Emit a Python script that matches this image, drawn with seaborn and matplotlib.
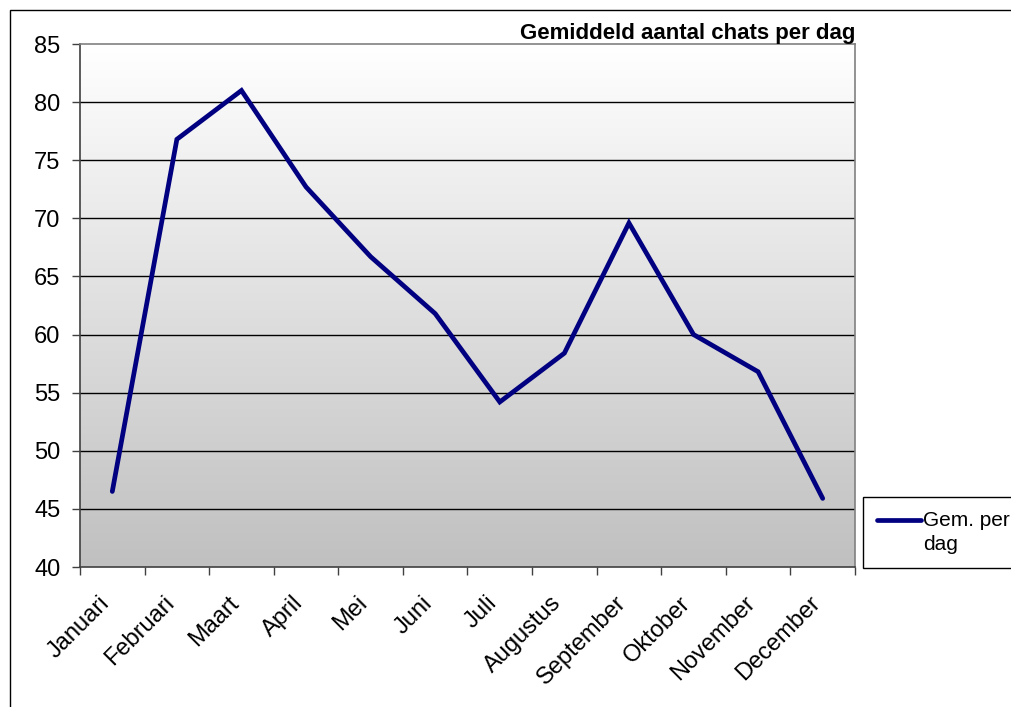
import numpy as np
import pandas as pd
import matplotlib
matplotlib.use("Agg")
import matplotlib.pyplot as plt
import matplotlib.transforms as mtransforms
from matplotlib.patches import Rectangle
from matplotlib.legend_handler import HandlerLine2D
import seaborn as sns

# Average number of chats per day, per month
maanden = ["Januari", "Februari", "Maart", "April", "Mei", "Juni", "Juli",
           "Augustus", "September", "Oktober", "November", "December"]
chats_per_dag = [46.5, 76.8, 81.0, 72.7, 66.7, 61.8, 54.2, 58.4, 69.6, 60.0, 56.8, 45.9]
y_ticks = [40, 45, 50, 55, 60, 65, 70, 75, 80, 85]

titel = "Gemiddeld aantal chats per dag"
legenda_label = "Gem. per\ndag"

sns.set_style("white")
plt.rcParams["font.family"] = ["Liberation Sans", "DejaVu Sans"]
plt.rcParams["text.color"] = "black"
plt.rcParams["xtick.color"] = "black"
plt.rcParams["ytick.color"] = "black"


class HandlerFirstLine(HandlerLine2D):
    """Legend line aligned with the first line of a two-line label."""

    def create_artists(self, legend, orig_handle, xdescent, ydescent, width,
                       height, fontsize, trans):
        artists = super().create_artists(legend, orig_handle, xdescent, ydescent,
                                         width, height, fontsize, trans)
        for a in artists:
            a.set_ydata(np.asarray(a.get_ydata()) + 0.62 * fontsize)
        return artists


W, H = 1012, 707
fig = plt.figure(figsize=(W / 100, H / 100), dpi=100)

# Outer chart frame
fig.patches.append(Rectangle((10 / W, -0.1), 1.2, 1 - 10 / H + 0.1,
                             transform=fig.transFigure, fill=False,
                             edgecolor="black", linewidth=1.0))

left, right, top, bottom = 80, 855, 44, 567
ax = fig.add_axes([left / W, 1 - bottom / H, (right - left) / W, (bottom - top) / H])

df = pd.DataFrame({"maand_idx": np.arange(len(maanden)), "chats": chats_per_dag})
x0, x1 = -0.5, len(maanden) - 0.5

# Vertical gradient fill of the plot area: white at top, grey at bottom
grad = np.linspace(0, 1, 256).reshape(-1, 1)
cmap = matplotlib.colors.LinearSegmentedColormap.from_list("bg", ["#ffffff", "#c0c0c0"])
ax.imshow(grad, aspect="auto", cmap=cmap, extent=[x0, x1, y_ticks[0], y_ticks[-1]],
          origin="upper", zorder=0)
ax.set_xlim(x0, x1)
ax.set_ylim(y_ticks[0], y_ticks[-1])

# Horizontal gridlines
for yv in y_ticks[1:-1]:
    ax.axhline(yv, color="#000000", linewidth=1.0, zorder=1)

sns.lineplot(data=df, x="maand_idx", y="chats", ax=ax, color="#000080",
             linewidth=3.4, legend=False, zorder=3, solid_joinstyle="miter")

# Axes styling
for side in ["top", "right"]:
    ax.spines[side].set_color("#808080")
    ax.spines[side].set_linewidth(1.2)
for side in ["left", "bottom"]:
    ax.spines[side].set_color("#404040")
    ax.spines[side].set_linewidth(1.2)

ax.set_yticks(y_ticks)
ax.set_yticklabels([str(v) for v in y_ticks], fontsize=17)
ax.tick_params(axis="y", direction="out", length=6, width=1, color="#404040", pad=8, left=True)

# Tick marks at category boundaries, labels at category centres
ax.set_xticks(np.arange(x0, len(maanden), 1.0))
ax.set_xticklabels([])
ax.tick_params(axis="x", which="major", direction="out", length=6, width=1, color="#404040", bottom=True)
ax.set_xticks(np.arange(len(maanden)), minor=True)
ax.set_xticklabels(maanden, minor=True, fontsize=17, rotation=45, ha="right",
                   rotation_mode="anchor")
ax.tick_params(axis="x", which="minor", length=0, pad=18)
shift = mtransforms.ScaledTranslation(-14 / 100, 0, fig.dpi_scale_trans)
for lbl in ax.get_xticklabels(minor=True):
    lbl.set_transform(lbl.get_transform() + shift)
ax.set_xlabel("")
ax.set_ylabel("")

fig.text(855 / W, 1 - 33 / H, titel, ha="right", va="center", fontsize=16,
         fontweight="bold")

handle = plt.Line2D([], [], color="#000080", linewidth=3.4)
leg = fig.legend([handle], [legenda_label], loc="upper left",
                 bbox_to_anchor=(863 / W, 1 - 497 / H), borderaxespad=0,
                 fancybox=False, frameon=True, edgecolor="black", framealpha=1,
                 fontsize=15, handlelength=2.15, handletextpad=0.1,
                 borderpad=0.65, labelspacing=0.2,
                 handler_map={plt.Line2D: HandlerFirstLine()})
for t in leg.get_texts():
    t.set_linespacing(1.38)
leg.get_frame().set_linewidth(1.0)

fig.savefig("out.png", dpi=100)
